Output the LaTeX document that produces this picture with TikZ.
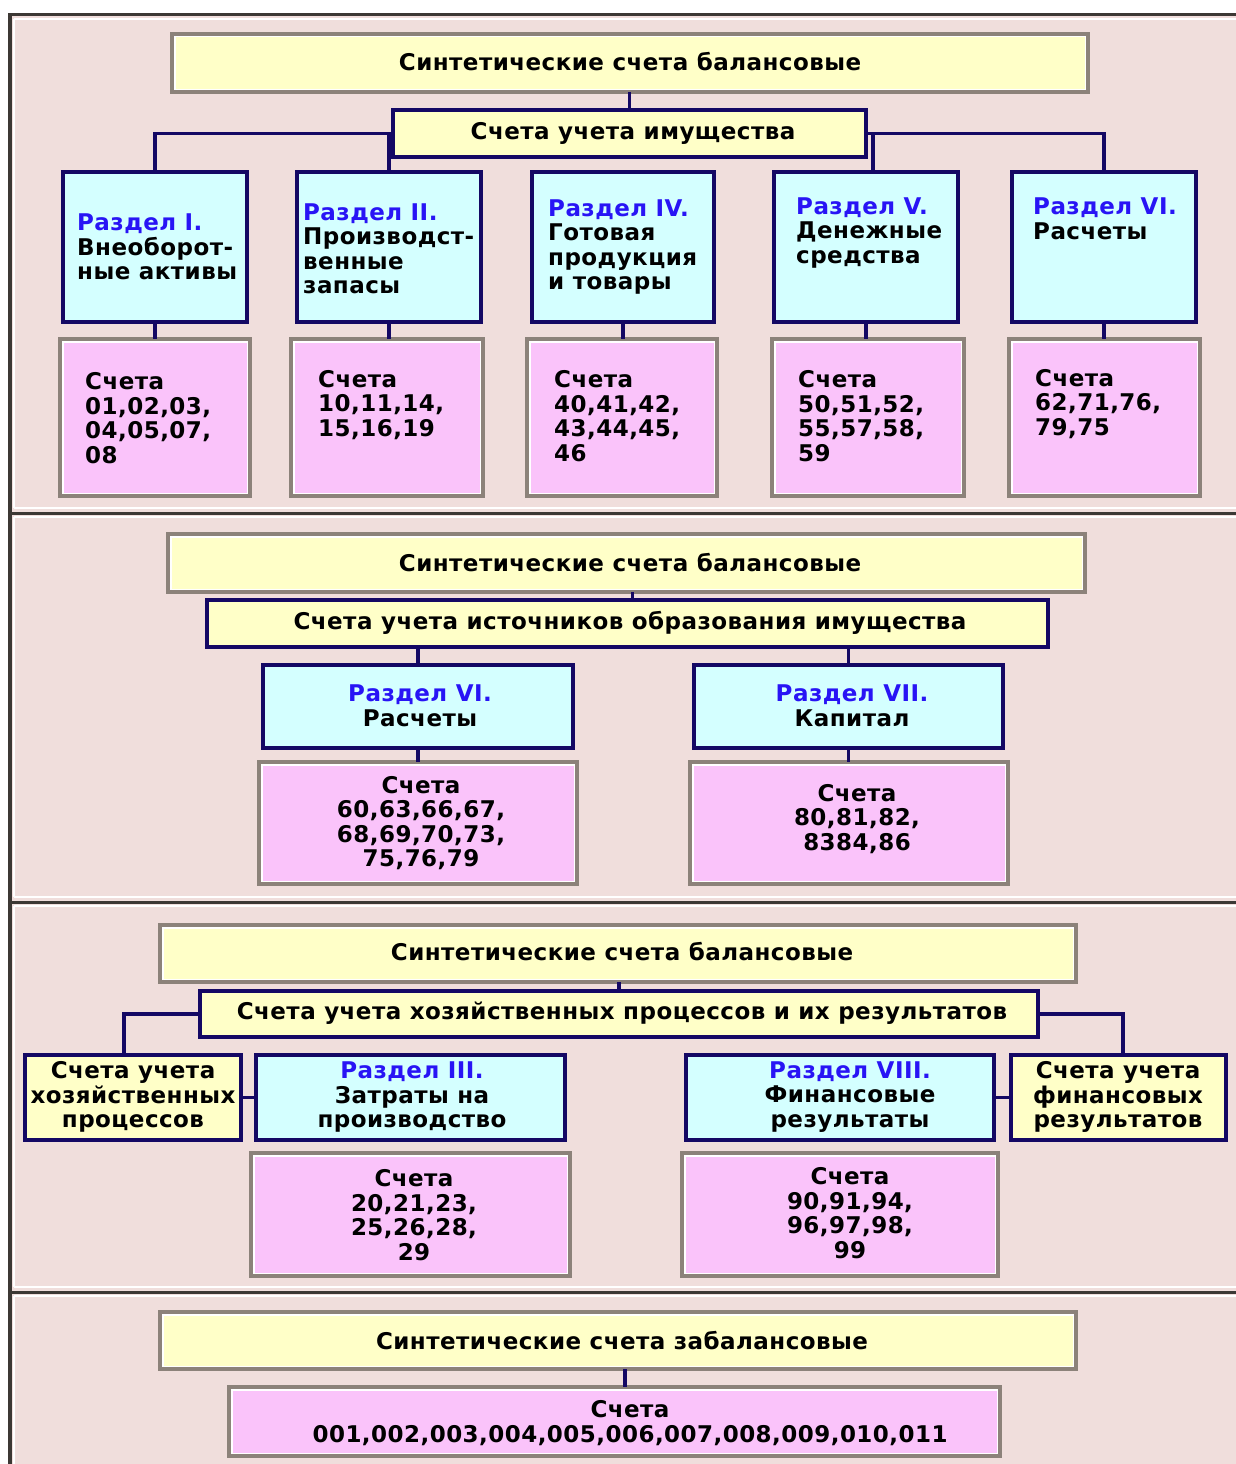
\documentclass[tikz,border=0pt]{standalone}
\usepackage{fontspec}
\setmainfont{DejaVu Sans}[LetterSpace=2]
\usetikzlibrary{calc}
\definecolor{panelbg}{RGB}{240,222,220}
\definecolor{ybox}{RGB}{255,255,200}
\definecolor{cbox}{RGB}{212,255,255}
\definecolor{pbox}{RGB}{250,195,250}
\definecolor{navy}{RGB}{20,8,100}
\definecolor{rblue}{RGB}{40,20,245}
\definecolor{bevel}{RGB}{140,130,122}
\definecolor{edgecol}{RGB}{60,56,52}
\newcommand\rz[1]{\textcolor{rblue}{#1}}
\tikzset{
  box/.style={anchor=north west, inner sep=0pt, outer sep=0pt},
  navybox/.style={box, draw=navy, line width=3.5pt},
  ylw/.style={navybox, fill=ybox},
  cyn/.style={navybox, fill=cbox},
  bev/.style={box, draw=bevel, line width=4pt,
    path picture={\draw[white, line width=7pt] (path picture bounding box.south west) rectangle (path picture bounding box.north east);}},
  ybev/.style={bev, fill=ybox},
  pbev/.style={bev, fill=pbox},
  conn/.style={draw=navy, line width=3.2pt},
  txt/.style={inner sep=0pt, font=\bfseries\fontsize{23}{24.5}\selectfont, text=black},
  ltxt/.style={txt, anchor=west, align=left},
  ctxt/.style={txt, anchor=center, align=center},
  sepdark/.style={draw=edgecol, line width=3pt},
  sepwhite/.style={draw=white, line width=2pt},
}
\begin{document}
\begin{tikzpicture}[x=1pt, y=-1pt]
\useasboundingbox (0,0) rectangle (1236,1464);
\fill[white] (0,0) rectangle (1236,1464);
% panels
\fill[panelbg] (8,14) rectangle (1236,1464);
\foreach \yt/\yb in {15/508, 513/897, 902/1287, 1292/1470}{
  \draw[sepwhite] (14,\yt+4) -- (1236,\yt+4);
  \draw[sepwhite] (14,\yt+4) -- (14,\yb);
  \draw[sepwhite] (14,\yb) -- (1236,\yb);
  \draw[sepdark] (8,\yt) -- (1236,\yt);
}
\draw[draw=edgecol, line width=4pt] (10,13.5) -- (10,1464);

% ---------- panel 1 ----------
\node[ybev, minimum width=916pt, minimum height=58pt] (t1) at (172,34) {};
\node[ctxt] (t1x) at (630,62) {Синтетические счета балансовые};
\node[ylw, minimum width=473pt, minimum height=47pt] (m1) at (393,110) {};
\node[ctxt] (m1x) at (633,133) {Счета учета имущества};

\node[cyn, minimum width=184pt, minimum height=150pt] (c1) at (63,172) {};
\node[cyn, minimum width=184pt, minimum height=150pt] (c2) at (297,172) {};
\node[cyn, minimum width=182pt, minimum height=150pt] (c3) at (532,172) {};
\node[cyn, minimum width=184pt, minimum height=150pt] (c4) at (774,172) {};
\node[cyn, minimum width=184pt, minimum height=150pt] (c5) at (1012,172) {};

\node[ltxt] (c1x) at (77,247) {\rz{Раздел I.}\\Внеоборот-\\ные активы};
\node[ltxt] (c2x) at (303,249) {\rz{Раздел II.}\\Производст-\\венные\\запасы};
\node[ltxt] (c3x) at (548,247) {\rz{Раздел IV.}\\Готовая\\продукция\\и товары};
\node[ltxt] (c4x) at (796,233) {\rz{Раздел V.}\\Денежные\\средства};
\node[ltxt] (c5x) at (1033,219) {\rz{Раздел VI.}\\Расчеты};

\node[pbev, minimum width=190pt, minimum height=157pt] (p1) at (60,339) {};
\node[pbev, minimum width=192pt, minimum height=157pt] (p2) at (291,339) {};
\node[pbev, minimum width=190pt, minimum height=157pt] (p3) at (527,339) {};
\node[pbev, minimum width=192pt, minimum height=157pt] (p4) at (772,339) {};
\node[pbev, minimum width=191pt, minimum height=157pt] (p5) at (1009,339) {};

\node[ltxt] (p1x) at (85,418) {Счета\\01,02,03,\\04,05,07,\\08};
\node[ltxt] (p2x) at (318,405) {Счета\\10,11,14,\\15,16,19};
\node[ltxt] (p3x) at (554,416) {Счета\\40,41,42,\\43,44,45,\\46};
\node[ltxt] (p4x) at (798,416) {Счета\\50,51,52,\\55,57,58,\\59};
\node[ltxt] (p5x) at (1035,404) {Счета\\62,71,76,\\79,75};

\draw[conn] (m1.north) -- (m1.north |- t1.south);
\draw[conn] (m1.west) -| (c1.north);
\draw[conn] (m1.west -| c2.north) -- (c2.north);
\draw[conn] (m1.east) -| (c5.north);
\draw[conn] ([xshift=7pt]m1.east) -- ([xshift=7pt]m1.east |- c4.north);
\foreach \i in {1,...,5}{\draw[conn] (c\i.south) -- (c\i.south |- p\i.north);}

% ---------- panel 2 ----------
\node[ybev, minimum width=917pt, minimum height=58pt] (t2) at (168,534) {};
\node[ctxt] (t2x) at (630,563) {Синтетические счета балансовые};
\node[ylw, minimum width=841pt, minimum height=47pt] (m2) at (207,600) {};
\node[ctxt] (m2x) at (630,623) {Счета учета источников образования имущества};
\node[cyn, minimum width=310pt, minimum height=83pt] (c6) at (263,665) {};
\node[cyn, minimum width=309pt, minimum height=83pt] (c7) at (694,665) {};
\node[ctxt] (c6x) at (420,706) {\rz{Раздел VI.}\\Расчеты};
\node[ctxt] (c7x) at (852,706) {\rz{Раздел VII.}\\Капитал};
\node[pbev, minimum width=318pt, minimum height=122pt] (p6) at (259,762) {};
\node[pbev, minimum width=318pt, minimum height=122pt] (p7) at (690,762) {};
\node[ctxt] (p6x) at (421,823) {Счета\\60,63,66,67,\\68,69,70,73,\\75,76,79};
\node[ctxt] (p7x) at (857,819) {Счета\\80,81,82,\\8384,86};

\draw[conn] ([xshift=5pt]m2.north) -- ([xshift=5pt]m2.north |- t2.south);
\draw[conn] (m2.south -| c6.north) -- (c6.north);
\draw[conn] (m2.south -| c7.north) -- (c7.north);
\draw[conn] (c6.south) -- (c6.south |- p6.north);
\draw[conn] (c7.south) -- (c7.south |- p7.north);

% ---------- panel 3 ----------
\node[ybev, minimum width=916pt, minimum height=57pt] (t3) at (160,925) {};
\node[ctxt] (t3x) at (622,952) {Синтетические счета балансовые};
\node[ylw, minimum width=838pt, minimum height=46pt] (m3) at (200,991) {};
\node[ctxt] (m3x) at (622,1013) {Счета учета хозяйственных процессов и их результатов};
\node[ylw, minimum width=216pt, minimum height=85pt] (y1) at (25,1055) {};
\node[cyn, minimum width=309pt, minimum height=85pt] (c8) at (256,1055) {};
\node[cyn, minimum width=308pt, minimum height=85pt] (c9) at (686,1055) {};
\node[ylw, minimum width=215pt, minimum height=85pt] (y2) at (1011,1055) {};
\node[ctxt] (y1x) at (133,1097) {Счета учета\\хозяйственных\\процессов};
\node[ctxt] (c8x) at (412,1097) {\rz{Раздел III.}\\Затраты на\\производство};
\node[ctxt] (c9x) at (850,1097) {\rz{Раздел VIII.}\\Финансовые\\результаты};
\node[ctxt] (y2x) at (1118,1097) {Счета учета\\финансовых\\результатов};
\node[pbev, minimum width=319pt, minimum height=123pt] (p8) at (251,1153) {};
\node[pbev, minimum width=316pt, minimum height=123pt] (p9) at (682,1153) {};
\node[ctxt] (p8x) at (414,1215) {Счета\\20,21,23,\\25,26,28,\\29};
\node[ctxt] (p9x) at (850,1213) {Счета\\90,91,94,\\96,97,98,\\99};

\coordinate (k1) at (124,1013);
\coordinate (k2) at (1123,1014);
\draw[conn] (m3.north) -- (m3.north |- t3.south);
\draw[conn] (m3.west) -- (m3.west -| k1) -- (k1 |- y1.north);
\draw[conn] (m3.east) -- (m3.east -| k2) -- (k2 |- y2.north);
\draw[conn] (y1.east) -- (c8.west);
\draw[conn] (c9.east) -- (y2.west);

% ---------- panel 4 ----------
\node[ybev, minimum width=916pt, minimum height=57pt] (t4) at (160,1312) {};
\node[ctxt] (t4x) at (622,1341) {Синтетические счета забалансовые};
\node[pbev, minimum width=771pt, minimum height=69pt] (p10) at (229,1387) {};
\node[ctxt] (p10x) at (630,1423) {Счета\\001,002,003,004,005,006,007,008,009,010,011};
\draw[conn] ([xshift=7pt]t4.south) -- ([xshift=7pt]t4.south |- p10.north);
\end{tikzpicture}
\end{document}
